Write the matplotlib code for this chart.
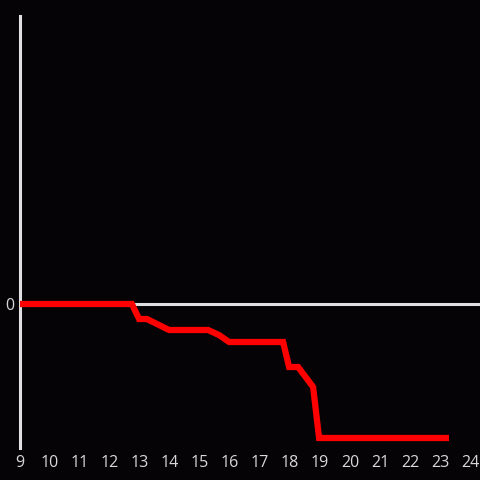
import matplotlib
matplotlib.use("Agg")
import matplotlib.pyplot as plt

x_values = [9.0, 12.73, 12.97, 13.23, 13.97, 15.27, 15.63, 15.97, 17.77, 17.97, 18.27, 18.77, 18.97, 23.3]
y_values = [0, 0, -15, -15, -26, -26, -31, -38, -38, -63, -63, -83, -134, -134]
x_ticks = list(range(9, 25))
y_ticks = [0]

bg = "#050306"
fg = "#e0e0e0"

fig = plt.figure(figsize=(4.8, 4.8), dpi=100, facecolor=bg)
ax = fig.add_axes([20/480, 1-448/480, 1-20/480, (448-16)/480], facecolor=bg)
ax.set_xlim(9, 9 + 460/30)
ax.set_ylim(-144, 288)
ax.axhline(0, color=fg, lw=2.2, zorder=1)
ax.plot(x_values, y_values, color="#ff0000", lw=4.5, solid_joinstyle="miter",
        solid_capstyle="butt", zorder=3)

for s in ["top", "right", "bottom"]:
    ax.spines[s].set_visible(False)
ax.spines["left"].set_color(fg)
ax.spines["left"].set_linewidth(2.2)
ax.set_xticks(x_ticks)
ax.set_xticklabels([str(t) for t in x_ticks])
ax.set_yticks(y_ticks)
ax.set_yticklabels(["0"])
ax.tick_params(axis="both", length=0, colors=fg, labelsize=11.5, labelcolor="#d8d8d8")
ax.tick_params(axis="x", pad=5)
ax.tick_params(axis="y", pad=4)
for lab in ax.get_xticklabels() + ax.get_yticklabels():
    lab.set_family(["Open Sans", "DejaVu Sans"])

fig.savefig("out.png", dpi=100, facecolor=bg)
